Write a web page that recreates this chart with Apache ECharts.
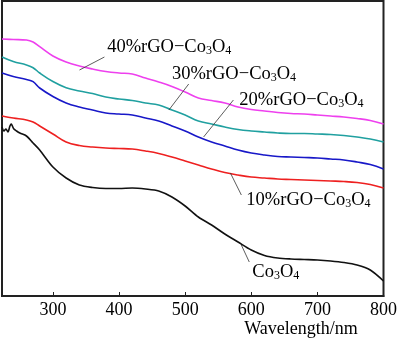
<!DOCTYPE html>
<html><head><meta charset="utf-8">
<script src="https://cdn.jsdelivr.net/npm/echarts@6/dist/echarts.min.js"></script>
<style>html,body{margin:0;padding:0;background:#fff}#c{width:400px;height:340px}</style>
</head><body><div id="c"></div>
<script>
// Wavelength (nm) grid for the rGO composite curves
const wavelength = [223,240,260,270,280,300,320,340,360,380,400,420,440,460,480,500,520,540,560,580,600,620,640,660,680,700,720,740,760,780,800];
// Absorbance (arbitrary units, offset curves)
const rgo40 = [257,256.5,256,254,249.3,240,234,230,227,224.5,223,222,218,214,209.5,204,198,195.5,193,189,186.5,185,183.5,182.5,182,181,180,179,177.5,175.5,172];
const rgo30 = [239,234.5,231,228.3,223,214.5,208.3,205,202.5,199,197,195.5,193,191,186,181,175,172,169,166.5,165,164,163,162.5,162.5,162,161.5,160.5,159,157,154];
const rgo20 = [223,219.5,216.5,214.3,208,199.5,193,189,186,183,182,181,178,175,170,165,159,154,150,146,143,141,139.5,139,138.5,138,137,136,134,131.5,127];
const rgo10 = [180,178,176,174,170,162,154,150.5,149,148,147.5,147,145,142.5,139,135,131,127,123.5,121,119,118,117,116.5,116,115.5,115,114.5,113.5,111.5,108];
// Pure Co3O4 (own wavelength grid, noisy start)
const wavelengthCo = [223,226,229,232,235,237,238,241,245,250,260,270,280,300,320,340,360,380,400,420,440,460,480,500,520,540,560,580,600,620,640,660,680,700,720,740,760,780,800];
const co3o4 = [169,165,167,164,170,172,171,167,165,163,160,153,146,129,118,111,108.5,107.5,107.5,108,107,105,99,90,79,71,62,54,46,40.5,38,37,36.5,36,35,33.5,31,26,15];
// Axis tick labels
const xTicks = [300,400,500,600,700,800];
// Curve labels and their leader lines (data units)
const labels = [
  {parts:['40%rGO−Co','3','O','4'], line:[[377.9,239],[340.2,226]], at:[382,249]},
  {parts:['30%rGO−Co','3','O','4'], line:[[505.4,212],[475.4,186]], at:[480,222]},
  {parts:['20%rGO−Co','3','O','4'], line:[[573,196],[527.9,159]], at:[582,196]},
  {parts:['10%rGO−Co','3','O','4'], line:[[568.5,123],[585,101]], at:[592.6,96.5]},
  {parts:['Co','3','O','4'], line:[[585,51],[597,34]], at:[601.6,24]}
];

const FONT = '"Liberation Serif","Times New Roman",serif';
const toPairs = (xs, ys) => xs.map((x,i)=>[x, ys[i]]);
const mk = (name, xs, ys, color, sm) => ({
  name, type:'line', data: toPairs(xs, ys), showSymbol:false, smooth:sm,
  lineStyle:{color, width:1.6}, itemStyle:{color}, silent:true, animation:false
});
const series = [
  mk('40%', wavelength, rgo40, '#ee40ee', 0.4),
  mk('30%', wavelength, rgo30, '#20a0a0', 0.4),
  mk('20%', wavelength, rgo20, '#1818c8', 0.4),
  mk('10%', wavelength, rgo10, '#ee2020', 0.4),
  mk('Co3O4', wavelengthCo, co3o4, '#111111', 0.3)
];
series.push({
  type:'line', data:[], silent:true, animation:false,
  markLine:{symbol:['none','none'], silent:true, animation:false, label:{show:false},
    lineStyle:{color:'#333', width:0.8, type:'solid'},
    data: labels.map(l => [{coord:l.line[0]},{coord:l.line[1]}])}
});

const chart = echarts.init(document.getElementById('c'), null, {renderer:'canvas'});
chart.setOption({
  animation:false,
  backgroundColor:'#fff',
  grid:{left:2, right:14, top:1, bottom:44, show:true, borderColor:'#222', borderWidth:2, backgroundColor:'transparent'},
  xAxis:{type:'value', min:223, max:800,
    axisLine:{show:true, lineStyle:{color:'#222', width:2}},
    axisTick:{show:true, inside:true, length:4, customValues:xTicks, lineStyle:{color:'#222', width:1}},
    axisLabel:{customValues:xTicks, color:'#000', fontFamily:FONT, fontSize:18, margin:5},
    splitLine:{show:false}},
  yAxis:{type:'value', min:0, max:295, show:false, splitLine:{show:false}},
  series
});

const rich = {
  a:{fontFamily:FONT, fontSize:18.5, lineHeight:20, color:'#000', verticalAlign:'bottom'},
  s:{fontFamily:FONT, fontSize:12, lineHeight:7, color:'#000', verticalAlign:'bottom'}
};
const graphics = labels.map(l => {
  const p = chart.convertToPixel({gridIndex:0}, l.at);
  const txt = l.parts.map((t,i)=> (i%2===0? '{a|'+t+'}' : '{s|'+t+'}')).join('');
  return {type:'text', x:p[0], y:p[1], style:{text:txt, rich, textVerticalAlign:'middle', textAlign:'left'}};
});
graphics.push({type:'text', x:301, y:329, style:{text:'Wavelength/nm', fontFamily:FONT, fontSize:18, fill:'#000', textAlign:'center', textVerticalAlign:'middle'}});
chart.setOption({graphic:graphics});
</script></body></html>
